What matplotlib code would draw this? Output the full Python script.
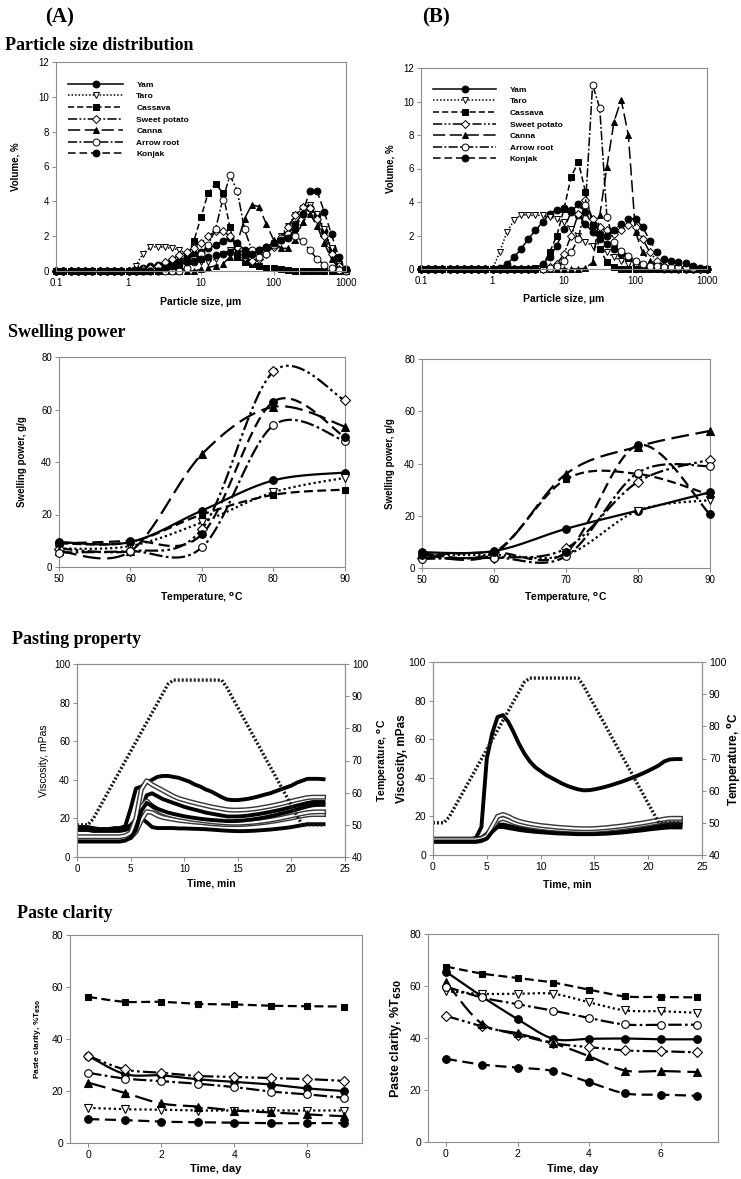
import numpy as np
import matplotlib
matplotlib.use("Agg")
import matplotlib.pyplot as plt
from matplotlib.ticker import NullLocator

plt.rcParams['font.family'] = ['Liberation Sans', 'DejaVu Sans']
plt.rcParams['mathtext.default'] = 'regular'

# ---------------------------------------------------------------- data
SPECIES = ["Yam", "Taro", "Cassava", "Sweet potato", "Canna", "Arrow root", "Konjak"]

# particle size bins (um), 10 per decade from 0.1 to 1000
SIZE_UM = np.logspace(-1, 3, 41)

PSD_A_YAM = [0,0,0,0,0,0,0,0,0,0,0, 0.1,0.2,0.3,0.35,0.4,0.5,0.6,0.8,0.95,1.1,1.3,1.5,1.7,1.9,1.6,1.2,1.1,1.2,1.4,1.6,1.8,2.1,2.7,3.3,3.6,3.2,2.3,1.2,0.4,0.05]
PSD_A_TARO = [0,0,0,0,0,0,0,0,0,0,0, 0.3,1.0,1.35,1.4,1.35,1.3,1.2,1.0,0.7,0.5,0.5,0.7,1.0,1.2,1.3,1.0,0.9,1.0,1.3,1.6,2.0,2.6,3.2,3.6,3.8,3.3,2.4,1.3,0.4,0.05]
PSD_A_CASSAVA = [0,0,0,0,0,0,0,0,0,0,0, 0,0,0,0,0,0.1,0.3,0.8,1.7,3.1,4.5,5.0,4.5,2.5,0.8,0.5,0.4,0.3,0.2,0.15,0.1,0.05,0,0,0,0,0,0,0,0]
PSD_A_SWEET = [0,0,0,0,0,0,0,0,0,0,0, 0,0.1,0.2,0.3,0.5,0.7,0.9,1.1,1.3,1.6,2.0,2.3,2.3,2.0,1.4,0.8,0.6,0.7,1.0,1.4,1.9,2.5,3.2,3.7,3.6,3.0,2.0,1.0,0.3,0.05]
PSD_A_CANNA = [0,0,0,0,0,0,0,0,0,0,0, 0,0,0,0,0,0,0,0,0,0.1,0.2,0.3,0.4,0.8,1.6,3.0,3.8,3.7,2.7,1.8,1.3,1.3,1.8,2.8,3.3,2.6,1.6,0.7,0.15,0]
PSD_A_ARROW = [0,0,0,0,0,0,0,0,0,0,0, 0,0,0,0,0,0,0,0.2,0.5,1.0,1.5,2.4,4.1,5.5,4.6,2.4,1.2,0.8,1.0,1.5,1.9,2.1,2.0,1.7,1.2,0.7,0.35,0.15,0.05,0]
PSD_A_KONJAK = [0,0,0,0,0,0,0,0,0,0,0, 0,0,0,0,0.2,0.3,0.4,0.5,0.6,0.7,0.8,0.9,1.0,1.1,1.0,0.9,1.0,1.2,1.4,1.6,1.8,1.9,2.4,3.3,4.6,4.6,3.4,2.1,0.8,0.1]

PSD_B_YAM = [0,0,0,0,0,0,0,0,0,0,0, 0.05,0.3,0.7,1.2,1.8,2.3,2.8,3.3,3.55,3.65,3.5,3.2,2.7,2.2,1.8,1.5,1.2,0.9,0.6,0.4,0.2,0.1,0.05,0,0,0,0,0,0,0]
PSD_B_TARO = [0,0,0,0,0,0,0,0,0,0,0, 1.0,2.2,2.9,3.25,3.2,3.2,3.2,3.1,3.0,2.8,2.4,2.0,1.6,1.4,1.2,1.0,0.7,0.5,0.3,0.15,0.05,0,0,0,0,0,0,0,0,0]
PSD_B_CASSAVA = [0,0,0,0,0,0,0,0,0,0,0, 0,0,0,0,0,0.05,0.2,1.0,2.0,3.6,5.5,6.4,4.6,2.6,1.2,0.4,0.1,0,0,0,0,0,0,0,0,0,0,0,0,0]
PSD_B_SWEET = [0,0,0,0,0,0,0,0,0,0,0, 0,0,0,0,0,0,0,0.1,0.3,0.9,2.0,3.3,4.1,3.0,2.5,2.3,2.1,2.3,2.6,2.5,1.8,1.0,0.5,0.2,0.1,0,0,0,0,0]
PSD_B_CANNA = [0,0,0,0,0,0,0,0,0,0,0, 0,0,0,0,0,0,0,0,0,0,0,0,0.05,0.4,3.2,6.1,8.8,10.1,8.0,2.2,1.0,0.5,0.2,0.05,0,0,0,0,0,0]
PSD_B_ARROW = [0,0,0,0,0,0,0,0,0,0,0, 0,0,0,0,0,0,0,0.05,0.15,0.5,1.0,1.8,3.8,11.0,9.6,3.1,1.6,1.1,0.8,0.5,0.3,0.2,0.15,0.1,0.1,0.1,0.1,0.05,0.02,0]
PSD_B_KONJAK = [0,0,0,0,0,0,0,0,0,0,0, 0,0,0,0,0,0,0.3,0.7,1.4,2.4,3.4,3.9,3.4,2.6,2.1,2.0,2.3,2.7,3.0,3.0,2.5,1.7,1.0,0.6,0.45,0.4,0.35,0.15,0.05,0]

# swelling power (g/g) vs temperature
SWELL_TEMP_C = [50, 60, 70, 80, 90]
SW_A_YAM = [9.5, 9.5, 21.5, 33, 36]
SW_A_TARO = [7, 8, 17, 28.5, 34]
SW_A_CASSAVA = [9, 9.5, 20, 27.5, 29.5]
SW_A_SWEET = [7, 6, 14.5, 74.5, 63.5]
SW_A_CANNA = [6, 6, 43, 61, 53.5]
SW_A_ARROW = [5.5, 6, 7.5, 54, 48]
SW_A_KONJAK = [9, 10, 12.5, 63, 49.5]

SW_B_YAM = [6, 6.5, 15, 22, 29]
SW_B_TARO = [5, 5, 5, 22, 26]
SW_B_CASSAVA = [5.5, 6, 34, 36, 28]
SW_B_SWEET = [4, 4, 7.5, 33, 41.5]
SW_B_CANNA = [5, 5.5, 36, 46.5, 52.5]
SW_B_ARROW = [3.5, 4, 4.5, 36.5, 39]
SW_B_KONJAK = [5, 6, 6, 47, 20.5]

# pasting (RVA) curves, sampled every 0.5 min
PASTE_TIME_MIN = np.arange(0, 23.01, 0.5)
PASTE_TEMP_C = [50, 50, 50, 51.8, 54.8, 57.8, 60.8, 63.8, 66.8, 69.8,
                72.8, 75.8, 78.8, 81.8, 84.8, 87.8, 90.8, 93.8, 95, 95,
                95, 95, 95, 95, 95, 95, 95, 95, 92.6, 89.5,
                86.5, 83.4, 80.4, 77.3, 74.3, 71.2, 68.2, 65.2, 62.1, 59.1,
                56.0, 53.0, 50, 50, 50, 50, 50]

PA_A_YAM = [15.5, 15.5, 15.5, 14, 14, 14, 14, 14, 14.5, 15,
            16.5, 19.5, 20, 18, 15.5, 15, 15, 15, 15, 14.8,
            14.8, 14.7, 14.6, 14.5, 14.4, 14.2, 14, 13.8, 13.6, 13.5,
            13.4, 13.4, 13.5, 13.6, 13.8, 14, 14.2, 14.5, 14.8, 15.1,
            15.5, 16, 16.5, 17, 17, 17, 17]
PA_A_TARO = [9, 9, 9, 9, 9, 9, 9, 9, 9, 9.5,
             10, 13, 19, 23.5, 23, 21.5, 20.5, 20, 19.5, 19,
             18.7, 18.4, 18.1, 17.9, 17.6, 17.3, 17.1, 16.9, 16.8, 16.8,
             16.8, 16.9, 17.1, 17.3, 17.6, 17.9, 18.3, 18.7, 19.2, 19.7,
             20.2, 20.8, 21.3, 21.8, 22, 22, 22]
PA_A_CASSAVA = [14, 14, 14, 13.5, 13.5, 13.5, 13.5, 13.5, 13.5, 14,
                15, 17, 24, 32, 33, 31.5, 30, 29, 28, 27,
                26, 25.2, 24.5, 23.8, 23, 22.5, 22, 21.5, 21, 21,
                21, 21.2, 21.5, 21.9, 22.3, 22.8, 23.3, 23.9, 24.5, 25.2,
                25.9, 26.6, 27.3, 28, 28.5, 28.5, 28.5]
PA_A_SWEET = [9.5, 9.5, 9.5, 9.5, 9.5, 9.5, 9.5, 9.5, 9.5, 10,
              11, 16, 26, 29, 26.5, 24.5, 23, 22, 21.3, 20.7,
              20.2, 19.7, 19.3, 19, 18.6, 18.3, 18, 17.8, 17.6, 17.5,
              17.5, 17.6, 17.8, 18, 18.3, 18.7, 19.1, 19.6, 20.1, 20.7,
              21.3, 21.9, 22.5, 23, 23.3, 23.4, 23.4]
PA_A_CANNA = [15.5, 15.5, 15.5, 15, 14.5, 14.5, 14.5, 15, 15, 16,
              25, 35.5, 36.5, 38.5, 40, 41.5, 42, 42, 41.5, 41,
              40, 39, 37.5, 36.5, 35, 34, 32.5, 31, 29.8, 29.5,
              29.5, 29.8, 30.2, 30.8, 31.5, 32.3, 33, 34, 35, 36,
              37, 38.5, 39.5, 40.5, 40.5, 40.5, 40.3]
PA_A_ARROW = [10.5, 10.5, 10.5, 10.5, 10.5, 10.5, 10.5, 10.5, 10.5, 11,
              12.5, 20, 35, 39.5, 37.5, 36, 34.5, 33, 31.5, 30.3,
              29.5, 28.7, 28, 27.3, 26.7, 26, 25.5, 25, 24.5, 24.3,
              24.3, 24.4, 24.6, 24.9, 25.3, 25.8, 26.3, 26.9, 27.5, 28.2,
              28.9, 29.6, 30.2, 30.8, 31, 31, 31]
PA_A_KONJAK = [8, 8, 8, 8, 8, 8, 8, 8, 8, 8.5,
               10, 14, 24, 28, 26.5, 25, 24, 23, 22.3, 21.7,
               21.1, 20.6, 20.2, 19.8, 19.5, 19.2, 19, 18.8, 18.6, 18.6,
               18.7, 18.9, 19.2, 19.6, 20, 20.5, 21.1, 21.7, 22.4, 23.1,
               23.8, 24.6, 25.4, 26.2, 26.8, 27, 27]

PA_B_YAM = [8.5, 8.5, 8.5, 8.5, 8.5, 8.5, 8.5, 8.5, 8.5, 9,
            11, 14.5, 15.5, 15, 14.5, 14, 13.5, 13.1, 12.8, 12.5,
            12.3, 12.1, 11.9, 11.8, 11.6, 11.5, 11.4, 11.3, 11.2, 11.2,
            11.3, 11.4, 11.6, 11.8, 12, 12.3, 12.6, 12.9, 13.2, 13.6,
            14, 14.4, 14.8, 15.1, 15.3, 15.3, 15.3]
PA_B_TARO = [7, 7, 7, 7, 7, 7, 7, 7, 7, 7.5,
             9, 13, 16.5, 17.5, 16.8, 15.8, 15, 14.4, 14, 13.6,
             13.3, 13, 12.8, 12.6, 12.4, 12.3, 12.2, 12.1, 12, 12,
             12.1, 12.3, 12.5, 12.8, 13.1, 13.4, 13.8, 14.2, 14.6, 15,
             15.5, 16, 16.5, 17, 17.2, 17.2, 17.2]
PA_B_CASSAVA = [7.5, 7.5, 7.5, 7.5, 7.5, 7.5, 7.5, 7.5, 7.5, 8,
                10, 14, 16, 15.5, 15, 14.5, 14, 13.6, 13.3, 13,
                12.8, 12.6, 12.4, 12.2, 12.1, 12, 11.9, 11.8, 11.8, 11.8,
                11.9, 12, 12.2, 12.4, 12.7, 13, 13.3, 13.6, 14, 14.4,
                14.8, 15.2, 15.6, 16, 16.2, 16.2, 16.2]
PA_B_SWEET = [7.5, 7.5, 7.5, 7.5, 7.5, 7.5, 7.5, 7.5, 7.5, 8,
              9.5, 13.5, 18, 19, 18, 16.8, 16, 15.4, 14.9, 14.5,
              14.1, 13.8, 13.5, 13.3, 13.1, 12.9, 12.8, 12.7, 12.6, 12.6,
              12.7, 12.9, 13.1, 13.4, 13.7, 14, 14.4, 14.8, 15.2, 15.6,
              16.1, 16.6, 17.1, 17.6, 18, 18, 18]
PA_B_CANNA = [8, 8, 8, 7.5, 7.5, 7.5, 7.5, 8, 9, 14.5,
              50, 63, 71.5, 72.5, 69, 63.5, 57.5, 52.5, 48.5, 45.5,
              43.5, 41.5, 40, 38.5, 37, 35.8, 34.8, 34, 33.5, 33.6,
              34, 34.6, 35.3, 36.1, 37, 37.9, 38.9, 40, 41.1, 42.3,
              43.6, 45, 46.5, 48.5, 49.5, 49.7, 49.7]
PA_B_ARROW = [8, 8, 8, 8, 8, 8, 8, 8, 8, 8.5,
              10, 15, 20, 21, 20, 18.5, 17.5, 16.8, 16.2, 15.7,
              15.3, 15, 14.7, 14.4, 14.2, 14, 13.8, 13.7, 13.6, 13.6,
              13.7, 13.9, 14.1, 14.4, 14.7, 15, 15.4, 15.8, 16.2, 16.6,
              17.1, 17.6, 18.1, 18.6, 19, 19, 19]
PA_B_KONJAK = [7, 7, 7, 7, 7, 7, 7, 7, 7, 7.5,
               8.5, 12, 14.5, 14.5, 14, 13.5, 13, 12.6, 12.3, 12,
               11.8, 11.6, 11.4, 11.2, 11.1, 11, 10.9, 10.8, 10.8, 10.8,
               10.8, 10.9, 11, 11.2, 11.4, 11.6, 11.9, 12.2, 12.5, 12.8,
               13.2, 13.5, 13.8, 14.1, 14.3, 14.3, 14.3]

# paste clarity (%T650) vs storage day
DAYS = [0, 1, 2, 3, 4, 5, 6, 7]
PC_A_YAM = [33.5, 26.5, 26, 24.5, 23.5, 22.5, 21, 20]
PC_A_TARO = [13.5, 13, 12.8, 12.5, 12.5, 12.5, 12.5, 12.5]
PC_A_CASSAVA = [56.2, 54.3, 54.3, 53.5, 53.3, 52.8, 52.6, 52.5]
PC_A_SWEET = [33.5, 28.3, 27, 25.8, 25.4, 25, 24.6, 23.9]
PC_A_CANNA = [23.2, 19.3, 15.2, 14, 12.5, 11.8, 11, 10.3]
PC_A_ARROW = [27, 24.8, 23.8, 22.8, 21.5, 19.8, 18.7, 17.4]
PC_A_KONJAK = [9.2, 8.8, 8.2, 8, 7.8, 7.6, 7.7, 7.6]

PC_B_YAM = [65.5, 56, 47.3, 39.7, 39.7, 39.8, 39.5, 39.5]
PC_B_TARO = [58, 57, 57, 57, 53.7, 50.6, 50.3, 49.7]
PC_B_CASSAVA = [67.5, 64.8, 63.1, 61.3, 58.6, 56, 55.8, 55.6]
PC_B_SWEET = [48.5, 44.5, 41.3, 38, 36.5, 35.2, 34.9, 34.5]
PC_B_CANNA = [61.5, 45.5, 41.8, 38, 33, 27.5, 27.3, 26.9]
PC_B_ARROW = [59.8, 55.6, 53, 50.5, 47.7, 45.2, 45.1, 45.1]
PC_B_KONJAK = [32, 29.8, 28.6, 27.3, 23, 18.7, 18.2, 17.8]

# ---------------------------------------------------------------- styles
STYLE = {
    "Yam":          dict(ls='-',                            marker='o', mfc='k', ms=5.5),
    "Taro":         dict(ls=(0, (1, 1.3)),                  marker='v', mfc='w', ms=5.5),
    "Cassava":      dict(ls=(0, (4, 2)),                    marker='s', mfc='k', ms=5.0),
    "Sweet potato": dict(ls=(0, (6, 1.5, 1.2, 1.5, 1.2, 1.5)), marker='D', mfc='w', ms=4.6),
    "Canna":        dict(ls=(0, (8, 3)),                    marker='^', mfc='k', ms=5.5),
    "Arrow root":   dict(ls=(0, (6, 1.5, 1.2, 1.5)),        marker='o', mfc='w', ms=5.5),
    "Konjak":       dict(ls=(0, (5, 2.5)),                  marker='o', mfc='k', ms=5.5),
}
WHITE = {"Taro", "Sweet potato", "Arrow root"}

W, H = 741, 1179
fig = plt.figure(figsize=(W / 100, H / 100), dpi=100)
SPINE = '#8c8c8c'


def box_axes(box):
    x0, y0, x1, y1 = box
    return fig.add_axes([x0 / W, 1 - y1 / H, (x1 - x0) / W, (y1 - y0) / H])


def style_axes(ax, fs):
    for s in ax.spines.values():
        s.set_color(SPINE)
        s.set_linewidth(0.8)
    ax.tick_params(direction='out', length=3, width=0.7, color=SPINE, labelsize=fs, pad=2)


def ylabel_at(ax, box, text, cx, fs, weight='bold', side='left'):
    fs_px = fs * 100 / 72
    if side == 'left':
        ax.set_ylabel(text, fontsize=fs, fontweight=weight)
        anchor = cx + 0.55 * fs_px
    else:
        ax.set_ylabel(text, fontsize=fs, fontweight=weight, rotation=90)
        anchor = cx - 0.55 * fs_px
    ax.yaxis.set_label_coords((anchor - box[0]) / (box[2] - box[0]), 0.5)


def xlabel_at(ax, box, text, cy, fs):
    fs_px = fs * 100 / 72
    ax.set_xlabel(text, fontsize=fs, fontweight='bold')
    anchor = cy - 0.6 * fs_px
    ax.xaxis.set_label_coords(0.5, (box[3] - anchor) / (box[3] - box[1]))


def smooth(x, y, n=24):
    P = np.column_stack([np.asarray(x, float), np.asarray(y, float)])
    Pe = np.vstack([P[0], P, P[-1]])
    out = []
    t = np.linspace(0, 1, n, endpoint=False)[:, None]
    for i in range(len(P) - 1):
        p0, p1, p2, p3 = Pe[i], Pe[i + 1], Pe[i + 2], Pe[i + 3]
        c1 = p1 + (p2 - p0) / 6
        c2 = p2 - (p3 - p1) / 6
        out.append((1 - t) ** 3 * p1 + 3 * (1 - t) ** 2 * t * c1 + 3 * (1 - t) * t ** 2 * c2 + t ** 3 * p2)
    out.append(P[-1:])
    return np.vstack(out)


# ---------------------------------------------------------------- headers
serif = dict(family='Liberation Serif', fontweight='bold')
fig.text(60 / W, 1 - 17 / H, '(A)', ha='center', va='center', fontsize=15, **serif)
fig.text(436 / W, 1 - 17 / H, '(B)', ha='center', va='center', fontsize=15, **serif)
fig.text(5 / W, 1 - 46 / H, 'Particle size distribution', ha='left', va='center', fontsize=13, **serif)
fig.text(8 / W, 1 - 332 / H, 'Swelling power', ha='left', va='center', fontsize=13, **serif)
fig.text(12 / W, 1 - 640 / H, 'Pasting property', ha='left', va='center', fontsize=13, **serif)
fig.text(17 / W, 1 - 913 / H, 'Paste clarity', ha='left', va='center', fontsize=13, **serif)

# ---------------------------------------------------------------- PSD panels
def psd_panel(box, series, ylab_x, xlab_y, leg_xy, handlelen):
    ax = box_axes(box)
    style_axes(ax, 7)
    for sp, vals in zip(SPECIES, series):
        st = STYLE[sp]
        ax.plot(SIZE_UM, vals, color='k', lw=1.1, ls=st['ls'], marker=st['marker'],
                mfc=st['mfc'], mec='k', mew=0.7, ms=st['ms'] * 0.9, clip_on=False, label=sp)
    ax.set_xscale('log')
    ax.set_xlim(0.1, 1000)
    ax.set_ylim(0, 12)
    ax.set_xticks([0.1, 1, 10, 100, 1000])
    ax.set_xticklabels(['0.1', '1', '10', '100', '1000'])
    ax.xaxis.set_minor_locator(NullLocator())
    ax.set_yticks(range(0, 13, 2))
    ylabel_at(ax, box, 'Volume, %', ylab_x, 7)
    xlabel_at(ax, box, 'Particle size, µm', xlab_y, 7.5)
    fx = (leg_xy[0] - box[0]) / (box[2] - box[0])
    fy = (box[3] - leg_xy[1]) / (box[3] - box[1])
    ax.legend(loc='upper left', bbox_to_anchor=(fx, fy), frameon=False,
              prop={'weight': 'bold', 'size': 6}, handlelength=handlelen,
              handletextpad=1.6, labelspacing=0.45, borderpad=0, borderaxespad=0, numpoints=1)
    return ax


psd_panel((56, 62, 346, 271),
          [PSD_A_YAM, PSD_A_TARO, PSD_A_CASSAVA, PSD_A_SWEET, PSD_A_CANNA, PSD_A_ARROW, PSD_A_KONJAK],
          15, 303, (68, 81), 6.6)
psd_panel((421, 68, 707, 269),
          [PSD_B_YAM, PSD_B_TARO, PSD_B_CASSAVA, PSD_B_SWEET, PSD_B_CANNA, PSD_B_ARROW, PSD_B_KONJAK],
          390, 300, (433, 86), 7.6)


# ---------------------------------------------------------------- smooth-line panels
def smooth_panel(box, x, series, xlim, xticks, ylabel, ylab_x, ylab_fs, xlabel, xlab_y, xlab_fs, tick_fs):
    ax = box_axes(box)
    style_axes(ax, tick_fs)
    for sp, vals in zip(SPECIES, series):
        st = STYLE[sp]
        pts = smooth(x, vals)
        ax.plot(pts[:, 0], pts[:, 1], color='k', lw=1.6, ls=st['ls'])
        ax.plot(x, vals, ls='none', marker=st['marker'], mfc=st['mfc'], mec='k', mew=0.8,
                ms=st['ms'], clip_on=False, zorder=3)
    ax.set_xlim(*xlim)
    ax.set_ylim(0, 80)
    ax.set_xticks(xticks)
    ax.set_yticks(range(0, 81, 20))
    ylabel_at(ax, box, ylabel, ylab_x, ylab_fs)
    xlabel_at(ax, box, xlabel, xlab_y, xlab_fs)
    return ax


TEMP_LABEL = r'Temperature, $^{\mathbf{o}}$C'
smooth_panel((59, 357, 345, 567), SWELL_TEMP_C,
             [SW_A_YAM, SW_A_TARO, SW_A_CASSAVA, SW_A_SWEET, SW_A_CANNA, SW_A_ARROW, SW_A_KONJAK],
             (50, 90), [50, 60, 70, 80, 90], 'Swelling power, g/g', 22, 7, TEMP_LABEL, 597, 7.5, 7)
smooth_panel((422, 359, 710, 568), SWELL_TEMP_C,
             [SW_B_YAM, SW_B_TARO, SW_B_CASSAVA, SW_B_SWEET, SW_B_CANNA, SW_B_ARROW, SW_B_KONJAK],
             (50, 90), [50, 60, 70, 80, 90], 'Swelling power, g/g', 390, 7, TEMP_LABEL, 597, 7.5, 7)

smooth_panel((70, 935, 362, 1143), DAYS,
             [PC_A_YAM, PC_A_TARO, PC_A_CASSAVA, PC_A_SWEET, PC_A_CANNA, PC_A_ARROW, PC_A_KONJAK],
             (-0.5, 7.5), [0, 2, 4, 6], r'Paste clarity, %T$_{\mathbf{650}}$', 38, 6, 'Time, day', 1171, 8, 7.5)
smooth_panel((428, 934, 718, 1142), DAYS,
             [PC_B_YAM, PC_B_TARO, PC_B_CASSAVA, PC_B_SWEET, PC_B_CANNA, PC_B_ARROW, PC_B_KONJAK],
             (-0.5, 7.6), [0, 2, 4, 6], r'Paste clarity, %T$_{\mathbf{650}}$', 397, 9, 'Time, day', 1171, 8, 7.5)


# ---------------------------------------------------------------- pasting panels
def paste_panel(box, series, vis_x, vis_fs, vis_weight, temp_x, temp_fs, xlab_y, tick_fs):
    ax = box_axes(box)
    style_axes(ax, tick_fs)
    t = PASTE_TIME_MIN
    for sp, vals in zip(SPECIES, series):
        if sp in WHITE:
            ax.plot(t, vals, color='#3a3a3a', lw=3.6, solid_joinstyle='round')
            ax.plot(t, vals, color='white', lw=1.5, solid_joinstyle='round')
        else:
            ax.plot(t, vals, color='k', lw=2.8, solid_joinstyle='round')
    ax.set_xlim(0, 25)
    ax.set_ylim(0, 100)
    ax.set_xticks(range(0, 26, 5))
    ax.set_yticks(range(0, 101, 20))
    ax2 = ax.twinx()
    style_axes(ax2, tick_fs)
    ax2.plot(t, PASTE_TEMP_C, color='#1a1a1a', lw=2.4, ls=(0, (0.6, 0.6)))
    ax2.set_ylim(40, 100)
    ax2.set_yticks(range(40, 101, 10))
    ylabel_at(ax, box, 'Viscosity, mPas', vis_x, vis_fs, weight=vis_weight)
    ylabel_at(ax2, box, TEMP_LABEL, temp_x, temp_fs, side='right')
    xlabel_at(ax, box, 'Time, min', xlab_y, 7.5)
    return ax


paste_panel((77, 664, 345, 857),
            [PA_A_YAM, PA_A_TARO, PA_A_CASSAVA, PA_A_SWEET, PA_A_CANNA, PA_A_ARROW, PA_A_KONJAK],
            43, 7.5, 'normal', 381, 7.5, 885, 7)
paste_panel((433, 662, 702, 855),
            [PA_B_YAM, PA_B_TARO, PA_B_CASSAVA, PA_B_SWEET, PA_B_CANNA, PA_B_ARROW, PA_B_KONJAK],
            402, 8.5, 'bold', 732, 8.5, 886, 7.5)

fig.savefig('out.png', dpi=100)
